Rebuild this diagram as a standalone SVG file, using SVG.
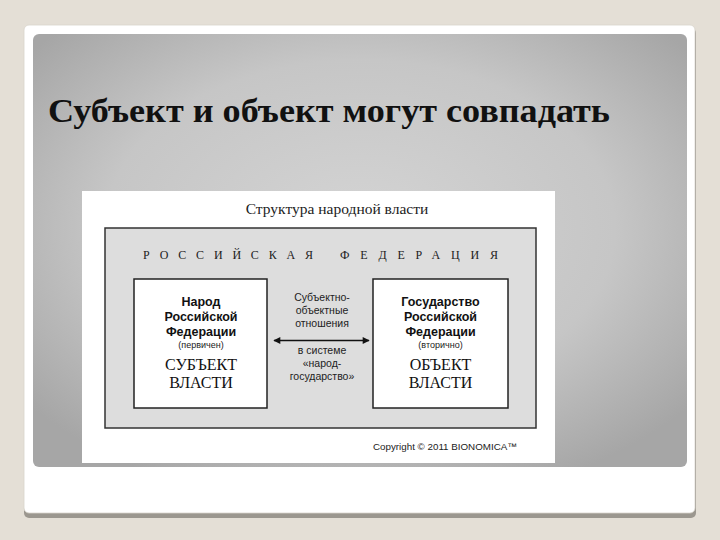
<svg xmlns="http://www.w3.org/2000/svg" width="720" height="540" viewBox="0 0 720 540">
  <defs>
    <radialGradient id="panelGrad" cx="0.5" cy="0.45" r="0.65">
      <stop offset="0" stop-color="#d4d4d4"/>
      <stop offset="0.6" stop-color="#c6c6c6"/>
      <stop offset="1" stop-color="#a6a6a6"/>
    </radialGradient>
    <marker id="arrowhead" viewBox="0 0 10 10" refX="9" refY="5" markerWidth="9" markerHeight="7" markerUnits="userSpaceOnUse" orient="auto-start-reverse">
      <path d="M0,0 L10,5 L0,10 z" fill="#111"/>
    </marker>
    <style>
      .bold { font-family: "Liberation Sans", Arial, sans-serif; font-weight: bold; font-size: 12.5px; fill: #111; text-anchor: middle; }
      .small { font-family: "Liberation Sans", Arial, sans-serif; font-size: 9px; fill: #222; text-anchor: middle; }
      .big { font-family: "Liberation Serif", "Times New Roman", serif; font-size: 16px; fill: #111; text-anchor: middle; }
      .mid { font-family: "Liberation Sans", Arial, sans-serif; font-size: 10.5px; fill: #222; text-anchor: middle; }
      .spaced { font-family: "Liberation Serif", "Times New Roman", serif; font-size: 12px; fill: #222; }
      .box { fill: #ffffff; stroke: #222; stroke-width: 1.5; }
    </style>
  </defs>

  <!-- page background -->
  <rect x="0" y="0" width="720" height="540" fill="#e4dfd6"/>

  <!-- slide card -->
  <g id="card">
    <rect x="24" y="28" width="672" height="490" rx="5" fill="#9b978f"/>
    <rect x="24" y="25" width="671" height="488" rx="5" fill="#ffffff" stroke="#d8d4cc" stroke-width="0.8"/>
    <rect x="33" y="34" width="654" height="433" rx="6" fill="url(#panelGrad)"/>
  </g>

  <!-- slide title -->
  <g id="slide-title">
    <text x="48" y="122" font-family="'Liberation Serif', 'Times New Roman', serif" font-weight="bold" font-size="33" fill="#111" textLength="562" lengthAdjust="spacingAndGlyphs">Субъект и объект могут совпадать</text>
  </g>

  <!-- diagram picture -->
  <g id="picture">
    <rect x="82" y="191" width="473" height="272" fill="#ffffff"/>
    <text x="337" y="214" font-family="'Liberation Serif', 'Times New Roman', serif" font-size="15.5" fill="#222" text-anchor="middle">Структура народной власти</text>
  </g>

  <g id="federation">
    <rect x="105" y="228" width="431" height="200" fill="#dddddd" stroke="#333" stroke-width="1.5"/>
    <text class="spaced" x="143" y="259" textLength="170" lengthAdjust="spacing">РОССИЙСКАЯ</text>
    <text class="spaced" x="340" y="259" textLength="158" lengthAdjust="spacing">ФЕДЕРАЦИЯ</text>
  </g>

  <g id="subject">
    <rect class="box" x="134" y="279" width="133" height="129"/>
    <text class="bold" x="201" y="306">Народ</text>
    <text class="bold" x="201" y="321">Российской</text>
    <text class="bold" x="201" y="336">Федерации</text>
    <text class="small" x="201" y="348">(первичен)</text>
    <text class="big" x="201" y="370">СУБЪЕКТ</text>
    <text class="big" x="201" y="388">ВЛАСТИ</text>
  </g>

  <g id="object">
    <rect class="box" x="373" y="279" width="135" height="129"/>
    <text class="bold" x="440.5" y="306">Государство</text>
    <text class="bold" x="440.5" y="321">Российской</text>
    <text class="bold" x="440.5" y="336">Федерации</text>
    <text class="small" x="440.5" y="348">(вторично)</text>
    <text class="big" x="440.5" y="370">ОБЪЕКТ</text>
    <text class="big" x="440.5" y="388">ВЛАСТИ</text>
  </g>

  <g id="connectors">
    <line x1="274" y1="340.5" x2="369" y2="340.5" stroke="#111" stroke-width="1.5" marker-start="url(#arrowhead)" marker-end="url(#arrowhead)"/>
  </g>

  <g id="relation-labels">
    <text class="mid" x="322" y="301">Субъектно-</text>
    <text class="mid" x="322" y="314">объектные</text>
    <text class="mid" x="322" y="327">отношения</text>
    <text class="mid" x="322" y="354">в системе</text>
    <text class="mid" x="322" y="367">«народ-</text>
    <text class="mid" x="322" y="380">государство»</text>
  </g>

  <g id="copyright">
    <text x="373" y="450" font-family="'Liberation Sans', Arial, sans-serif" font-size="9.5" fill="#222" textLength="144" lengthAdjust="spacingAndGlyphs">Copyright © 2011 BIONOMICA™</text>
  </g>
</svg>
